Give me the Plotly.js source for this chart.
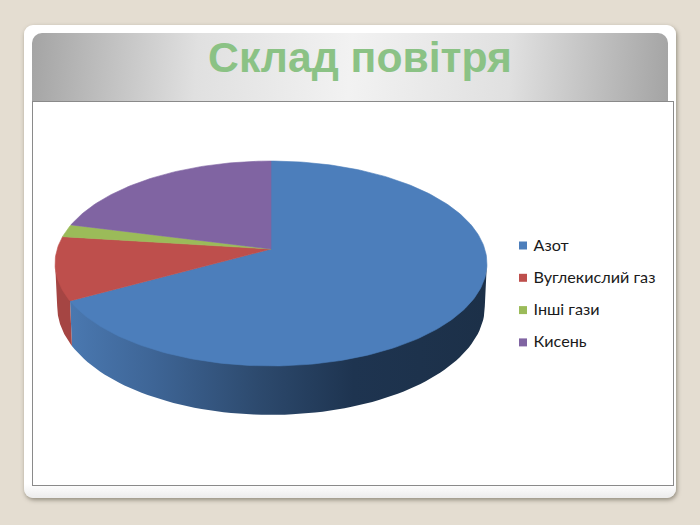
<!DOCTYPE html>
<html><head><meta charset="utf-8">
<script src="https://cdn.plot.ly/plotly-3.0.1.min.js"></script>
<style>
html,body{margin:0;padding:0;width:700px;height:525px;overflow:hidden;background:#e4ddd1}
#card{position:absolute;left:24px;top:25px;width:652px;height:473px;border-radius:9px;
 background:linear-gradient(#fff 0,#fff 97%,#ececec 100%);box-shadow:1px 2px 4px rgba(90,85,70,.6)}
#band{position:absolute;left:32px;top:33px;width:636px;height:69px;border-radius:10px 10px 0 0;
 background:linear-gradient(94deg,#a4a4a4 0%,#e0e0e0 26%,#f2f2f2 50%,#e0e0e0 75%,#a4a4a4 100%)}
#frame{position:absolute;left:32px;top:101px;width:642px;height:385px;background:#fff;border:1px solid #8a8a8a;box-sizing:border-box}
#chart{position:absolute;left:0;top:0;width:700px;height:525px}
</style></head><body>
<div id="card"></div><div id="band"></div><div id="frame"></div><div id="chart"></div>
<script>
const categories = ["Азот","Вуглекислий газ","Інші гази","Кисень"];
const values = [67,10,2,21];
const topColors = ["#4c7ebb","#be4f4c","#9bbb59","#8064a2"];
const wallScales = [
  [[0,"#4a78b0"],[0.2,"#3e6596"],[0.45,"#2d4a6e"],[0.68,"#1e3450"],[1,"#1c3048"]],
  [[0,"#a54543"],[1,"#a54543"]],
  [[0,"#86a24c"],[1,"#86a24c"]],
  [[0,"#6e5690"],[1,"#6e5690"]]
];
const title = "Склад повітря";

// projection of the pie disc to the page (perspective view)
const cx=271, cy=249, a=213.8, b=100.4, k=0.1415, D=42;
function proj(deg,r,low){
  const t=deg*Math.PI/180, u=r*Math.sin(t), v=-r*Math.cos(t), w=1-k*v;
  let X=cx+a*u/w, Y=cy+b*v/w;
  if(low){X=cx+(X-cx)*0.99; Y+=D/w;}
  return [X,Y];
}
const total=values.reduce((p,c)=>p+c,0);
const wallFrom=90+Math.asin(k)*180/Math.PI, wallTo=270-Math.asin(k)*180/Math.PI;
let traces=[], tops=[], start=0;
categories.forEach((name,i)=>{
  const end=start+values[i]/total*360;
  // side wall (its upper edge tucks slightly under the top face)
  const s=Math.max(start,wallFrom), e=Math.min(end,wallTo);
  if(e>s){
    const xs=[],ys=[];
    for(let d=s;d<=e+1e-6;d+=(e-s)/80){const p=proj(d,1,false);xs.push(p[0]);ys.push(p[1]-2);}
    for(let d=e;d>=s-1e-6;d-=(e-s)/80){const p=proj(d,1,true);xs.push(p[0]);ys.push(p[1]);}
    traces.push({x:xs,y:ys,mode:"lines",line:{width:0},fill:"toself",showlegend:false,hoverinfo:"skip",
      fillcolor:wallScales[i][0][1],
      fillgradient:{type:"horizontal",colorscale:wallScales[i]}});
  }
  // top face
  const xs=[cx],ys=[cy];
  const n=Math.max(8,Math.round(end-start));
  for(let j=0;j<=n;j++){const p=proj(start+(end-start)*j/n,1,false);xs.push(p[0]);ys.push(p[1]);}
  xs.push(cx);ys.push(cy);
  tops.push({x:xs,y:ys,mode:"lines",line:{width:0.6,color:topColors[i]},fill:"toself",fillcolor:topColors[i],name:name,showlegend:false,hoverinfo:"name"});
  start=end;
});
traces=traces.concat(tops);
// legend entries
categories.forEach((name,i)=>{
  traces.push({x:[523],y:[245.5+i*32.3],mode:"markers",marker:{symbol:"square",size:8,color:topColors[i]},showlegend:false,hoverinfo:"skip"});
  traces.push({x:[533.5],y:[246.5+i*32.3],mode:"text",text:[name],textposition:"middle right",
    textfont:{family:"Lato, 'Open Sans', sans-serif",size:16.2,color:"#1a1a1a"},showlegend:false,hoverinfo:"skip"});
});
const layout={
  width:700,height:525,margin:{l:0,r:0,t:0,b:0},paper_bgcolor:"rgba(0,0,0,0)",plot_bgcolor:"rgba(0,0,0,0)",
  showlegend:false,
  xaxis:{range:[0,700],visible:false,fixedrange:true},
  yaxis:{range:[525,0],visible:false,fixedrange:true},
  title:{text:"<b>"+title+"</b>",x:360/700,xanchor:"center",y:1-57/525,yanchor:"middle",
    font:{family:"'Liberation Sans', Arial, sans-serif",size:42.7,color:"#8bc285"}}
};
Plotly.newPlot("chart",traces,layout,{displayModeBar:false,staticPlot:true});
</script></body></html>
